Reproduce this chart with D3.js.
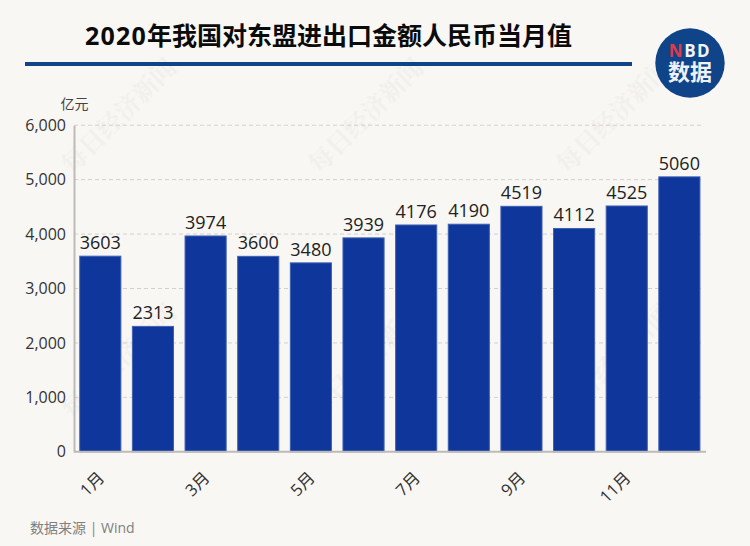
<!DOCTYPE html>
<html>
<head>
<meta charset="utf-8">
<script src="https://cdn.jsdelivr.net/npm/d3@7"></script>
<style>
html, body { margin: 0; padding: 0; background: #f9f7f4; }
svg { display: block; }
text { font-family: "Open Sans", "Noto Sans CJK SC", sans-serif; }
</style>
</head>
<body>
<svg id="chart" width="750" height="546"></svg>
<script>
// chart data
const months = ["1月","2月","3月","4月","5月","6月","7月","8月","9月","10月","11月","12月"];
const values = [3603,2313,3974,3600,3480,3939,4176,4190,4519,4112,4525,5060];
const yTicks = [0,1000,2000,3000,4000,5000,6000];
const shownMonths = ["1月","3月","5月","7月","9月","11月"];
const titleYear = "2020";
const titleText = "年我国对东盟进出口金额人民币当月值";
const unitText = "亿元";
const sourceText = "数据来源 | Wind";
const watermarkText = "每日经济新闻";
const watermarkSpots = [[125,122],[372,122],[620,122],[125,367],[372,367],[620,367]];

const svg = d3.select("#chart");
const margin = {left: 74, right: 44.3, top: 125.2, bottom: 94.2};
const width = 750, height = 546;

const x = d3.scaleBand().domain(months)
    .range([margin.left, width - margin.right])
    .paddingInner(0.2).paddingOuter(0.1);
const y = d3.scaleLinear().domain([0, 6000])
    .range([height - margin.bottom, margin.top]);

// watermark
svg.append("g").selectAll("text").data(watermarkSpots).join("text")
    .attr("transform", d => `translate(${d[0]},${d[1]}) rotate(-45)`)
    .attr("text-anchor", "middle")
    .style("font-family", '"Noto Serif CJK SC", "Noto Sans CJK SC", sans-serif')
    .style("font-size", "25px")
    .style("font-weight", 700)
    .attr("fill", "#f2f0ed")
    .text(watermarkText);

// title
const title = svg.append("text").attr("x", 85).attr("y", 45)
    .style("font-size", "25px").style("font-weight", 700)
    .attr("fill", "#0b0b0b");
title.append("tspan").style("letter-spacing", "1.2px").text(titleYear);
title.append("tspan").style("font-family", '"Noto Sans CJK SC"').text(titleText);
svg.append("line").attr("x1", 25).attr("x2", 632).attr("y1", 64).attr("y2", 64)
    .attr("stroke", "#0f4488").attr("stroke-width", 4);

// logo
const logo = svg.append("g");
logo.append("circle").attr("cx", 690).attr("cy", 63).attr("r", 34.7).attr("fill", "#0f4488");
const nbd = logo.append("text").attr("x", 690).attr("y", 57).attr("text-anchor", "middle")
    .style("font-size", "17px").style("font-weight", 700).style("letter-spacing", "1.5px");
nbd.append("tspan").attr("fill", "#e03a4a").text("N");
nbd.append("tspan").attr("fill", "#f2f4f7").text("BD");
logo.append("text").attr("x", 690).attr("y", 80).attr("text-anchor", "middle")
    .style("font-size", "22px").style("font-weight", 700).attr("fill", "#eef1f5").text("数据");

// grid
svg.append("g").selectAll("line").data(yTicks.filter(d => d > 0)).join("line")
    .attr("x1", margin.left).attr("x2", 703)
    .attr("y1", d => y(d)).attr("y2", d => y(d))
    .attr("stroke", "#d2d0cd").attr("stroke-dasharray", "4 3");

// y axis
const yAxis = svg.append("g").attr("transform", `translate(${margin.left},0)`)
    .call(d3.axisLeft(y).tickValues(yTicks).tickFormat(d3.format(",")).tickSize(0).tickPadding(8));
yAxis.select(".domain").attr("stroke", "#bdbbb8").attr("stroke-width", 2);
yAxis.selectAll("text").style("font-size", "16px").attr("fill", "#333")
    .style("font-family", '"Open Sans", sans-serif');

svg.append("text").attr("x", 60.5).attr("y", 108.5)
    .style("font-size", "14px").attr("fill", "#444").text(unitText);

// bars
svg.append("g").selectAll("rect").data(values).join("rect")
    .attr("x", (d, i) => x(months[i]) + 0.5)
    .attr("width", x.bandwidth() - 1)
    .attr("y", d => y(d) + 0.5)
    .attr("height", d => y(0) - y(d) - 0.5)
    .attr("fill", "#0e369b")
    .attr("stroke", "#3f60b4")
    .attr("stroke-width", 1);

// value labels
svg.append("g").selectAll("text").data(values).join("text")
    .attr("x", (d, i) => x(months[i]) + x.bandwidth() / 2)
    .attr("y", d => y(d) - 6.5)
    .attr("text-anchor", "middle")
    .style("font-size", "18px")
    .style("font-family", '"Open Sans", sans-serif')
    .attr("fill", "#222")
    .text(d => d);

// x axis
const xAxis = svg.append("g").attr("transform", `translate(0,${y(0)})`)
    .call(d3.axisBottom(x).tickValues(shownMonths).tickSize(0));
xAxis.select(".domain").attr("d", `M${margin.left},0H706`)
    .attr("stroke", "#bdbbb8").attr("stroke-width", 2);
xAxis.selectAll("text")
    .attr("text-anchor", "end")
    .attr("dy", 0).attr("y", 0)
    .attr("transform", "translate(5,27) rotate(-45)")
    .style("font-size", "16.5px")
    .style("font-family", '"Open Sans", "Noto Sans CJK SC", sans-serif')
    .attr("fill", "#333");

// source
svg.append("text").attr("x", 30).attr("y", 532.5)
    .style("font-size", "14px").attr("fill", "#808080").text(sourceText);
</script>
</body>
</html>
